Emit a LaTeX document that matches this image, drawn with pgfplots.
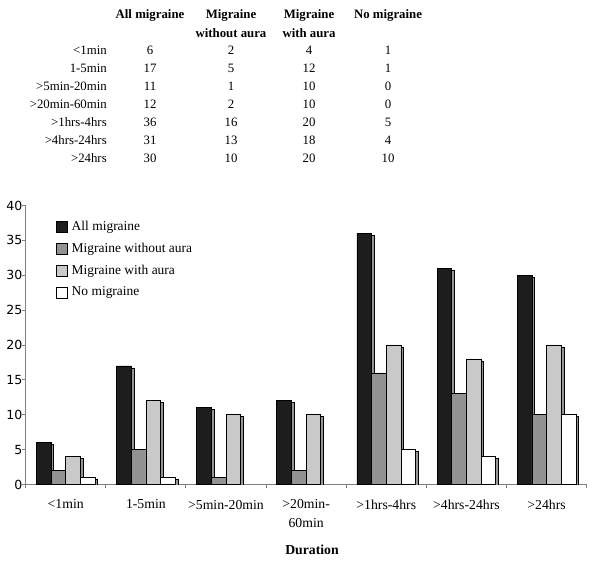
\documentclass[border=0pt]{standalone}
\usepackage{fontspec}
\setmainfont{Liberation Serif}
\newfontfamily\dejavu{DejaVu Sans}
\usepackage{pgfplots}
\usepackage{pgfplotstable}
\pgfplotsset{compat=1.18}
\usetikzlibrary{shadows}
\definecolor{barblack}{HTML}{1E1C1D}
\definecolor{bargray}{HTML}{929292}
\definecolor{barlight}{HTML}{C9C9C9}
\definecolor{shade}{HTML}{959595}
\definecolor{axgray}{HTML}{808080}
\tikzset{sh/.style={general shadow={shadow xshift=2pt, shadow yshift=-1.5pt, fill=shade}}}

% duration counts per group
\pgfplotstableread{
cat all without with none
0 6 2 4 1
1 17 5 12 1
2 11 1 10 0
3 12 2 10 0
4 36 16 20 5
5 31 13 18 4
6 30 10 20 10
}\durations

\begin{document}
\begin{tikzpicture}[x=0.75pt,y=0.75pt]
\useasboundingbox (0,0) rectangle (602,564);
\begin{axis}[
  at={(32,114)}, anchor=south west,
  scale only axis,
  width=420.75pt, height=209.25pt,
  ybar=0pt, bar width=11pt,
  xmin=-0.5, xmax=6.5, ymin=0, ymax=40,
  axis lines*=left,
  axis line style={axgray, line width=0.7pt},
  ytick={0,5,...,40},
  xtick={0,...,6},
  xticklabels={{<1min},{1-5min},{>5min-20min},{>20min-\\60min},{>1hrs-4hrs},{>4hrs-24hrs},{>24hrs}},
  xticklabel style={align=center, font=\fontsize{10.3}{13.5}\selectfont, yshift=-5pt},
  major x tick style={draw=none},
  minor xtick={-0.5,0.5,...,6.5},
  tick align=outside,
  major tick length=3pt, minor tick length=3pt,
  tick style={axgray, line width=0.7pt},
  yticklabel style={font=\dejavu\fontsize{9.4}{10}\selectfont, xshift=4pt},
  /pgf/number format/assume math mode=true,
  every axis plot/.append style={draw=black, line width=0.5pt},
  unbounded coords=discard,
  legend style={at={(0.046,0.96)}, anchor=north west, draw=none, fill=none,
    font=\fontsize{10.1}{12}\selectfont, row sep=6pt,
    nodes={inner sep=1pt}},
  legend cell align=left,
  legend image code/.code={\draw[#1] (0pt,-4.1pt) rectangle (8.25pt,4.1pt); \path (10.5pt,0pt);},
]
\addlegendimage{fill=barblack, draw=black, line width=0.5pt}
\addlegendentry{All migraine}
\addlegendimage{fill=bargray, draw=black, line width=0.5pt}
\addlegendentry{Migraine without aura}
\addlegendimage{fill=barlight, draw=black, line width=0.5pt}
\addlegendentry{Migraine with aura}
\addlegendimage{fill=white, draw=black, line width=0.5pt}
\addlegendentry{No migraine}

\addplot[fill=barblack, sh, bar shift=-16.5pt, forget plot] table[x=cat,y=all] {\durations};
\addplot[fill=bargray, sh, bar shift=-5.5pt, forget plot] table[x=cat,y=without] {\durations};
\addplot[fill=barlight, sh, bar shift=5.5pt, forget plot] table[x=cat,y=with] {\durations};
\addplot[fill=white, sh, bar shift=16.5pt, forget plot,
  y filter/.expression={y==0 ? nan : y}] table[x=cat,y=none] {\durations};
\end{axis}

% data table above the chart
\begin{scope}[every node/.style={inner sep=0pt, font=\fontsize{9.6}{11}\selectfont}]
\begin{scope}[every node/.append style={anchor=base, font=\bfseries\fontsize{9.6}{11}\selectfont}]
\node at (150,545.5) {All migraine};
\node at (231,545.5) {Migraine};
\node at (231,526.5) {without aura};
\node at (309,545.5) {Migraine};
\node at (309,526.5) {with aura};
\node at (388,545.5) {No migraine};
\end{scope}
\foreach \lab/\a/\b/\c/\d [count=\i from 0] in
  {{<1min}/6/2/4/1, {1-5min}/17/5/12/1, {>5min-20min}/11/1/10/0,
   {>20min-60min}/12/2/10/0, {>1hrs-4hrs}/36/16/20/5,
   {>4hrs-24hrs}/31/13/18/4, {>24hrs}/30/10/20/10} {
  \pgfmathsetmacro\yy{509.5-18*\i}
  \node[anchor=base east] at (107,\yy) {\lab};
  \node[anchor=base] at (150,\yy) {\a};
  \node[anchor=base] at (231,\yy) {\b};
  \node[anchor=base] at (309,\yy) {\c};
  \node[anchor=base] at (388,\yy) {\d};
}
\end{scope}
\node[anchor=base, inner sep=0pt, font=\bfseries\fontsize{10.3}{12}\selectfont] at (312,10) {Duration};
\end{tikzpicture}
\end{document}
